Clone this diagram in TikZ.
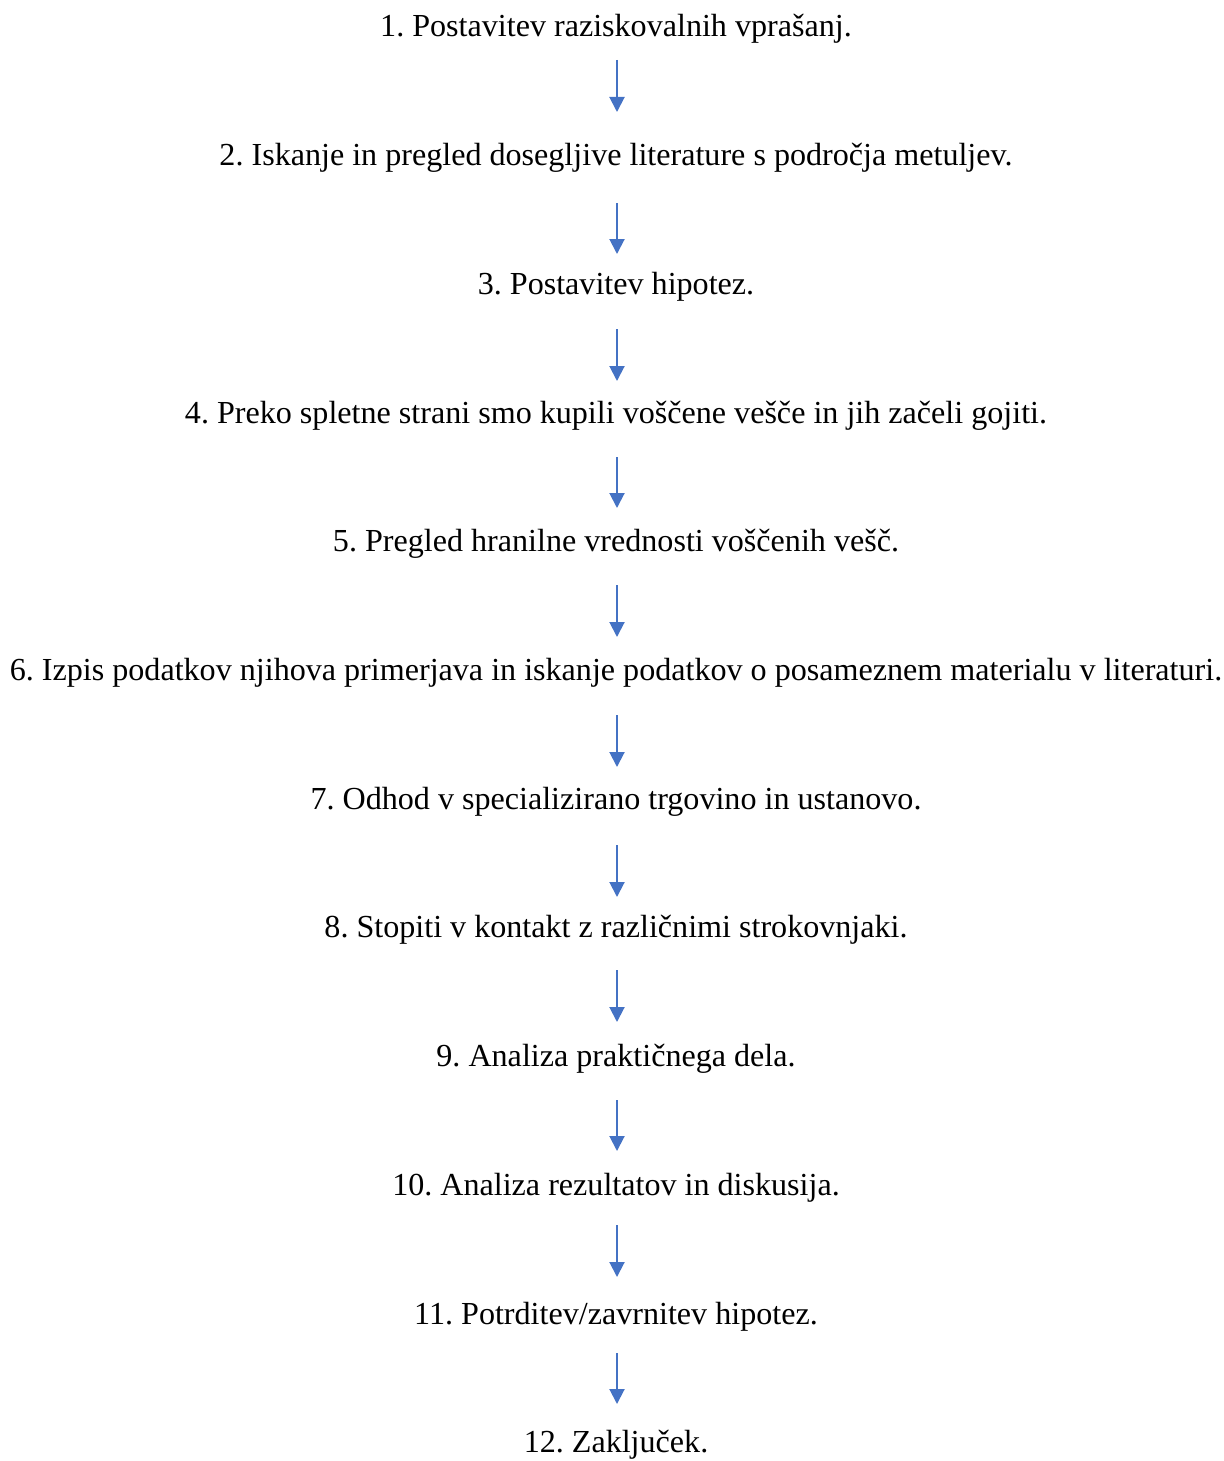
\documentclass[tikz,border=0pt]{standalone}
\usepackage{fontspec}
\setmainfont{Liberation Serif}
\usetikzlibrary{arrows.meta,calc}
\definecolor{arrblue}{HTML}{4472C4}
\tikzset{
  stepnode/.style={anchor=base, inner sep=0pt, font=\fontsize{16.05pt}{19pt}\selectfont\frenchspacing},
  flowarrow/.style={draw=arrblue, line width=1pt, -{Triangle[width=7.5pt,length=7.5pt]}, arrblue}
}
\begin{document}
\begin{tikzpicture}[x=0.5pt,y=-0.5pt]
\useasboundingbox (0,0) rectangle (1224,1461);
\node[stepnode] (n1)  at (616,37)     {1. Postavitev raziskovalnih vprašanj.};
\node[stepnode] (n2)  at (616,165.7)  {2. Iskanje in pregled dosegljive literature s področja metuljev.};
\node[stepnode] (n3)  at (616,294.4)  {3. Postavitev hipotez.};
\node[stepnode] (n4)  at (616,423.1)  {4. Preko spletne strani smo kupili voščene vešče in jih začeli gojiti.};
\node[stepnode] (n5)  at (616,551.8)  {5. Pregled hranilne vrednosti voščenih vešč.};
\node[stepnode] (n6)  at (616,680.5)  {6. Izpis podatkov njihova primerjava in iskanje podatkov o posameznem materialu v literaturi.};
\node[stepnode] (n7)  at (616,809.2)  {7. Odhod v specializirano trgovino in ustanovo.};
\node[stepnode] (n8)  at (616,937.9)  {8. Stopiti v kontakt z različnimi strokovnjaki.};
\node[stepnode] (n9)  at (616,1066.6) {9. Analiza praktičnega dela.};
\node[stepnode] (n10) at (616,1195.3) {10. Analiza rezultatov in diskusija.};
\node[stepnode] (n11) at (616,1324)   {11. Potrditev/zavrnitev hipotez.};
\node[stepnode] (n12) at (616,1452.7) {12. Zaključek.};
\foreach \a/\b/\s/\e in {n1/n2/23/-53.7, n2/n3/37.3/-40.4, n3/n4/34.6/-42.1, n4/n5/33.9/-43.8,
  n5/n6/33.2/-43.5, n6/n7/34.5/-42.2, n7/n8/35.8/-40.9, n8/n9/32.1/-44.6,
  n9/n10/33.4/-44.3, n10/n11/29.7/-47, n11/n12/29/-48.7}{
  \draw[flowarrow] ($(\a.base)+(1,\s)$) -- ($(\b.base)+(1,\e)$);
}
\end{tikzpicture}
\end{document}
